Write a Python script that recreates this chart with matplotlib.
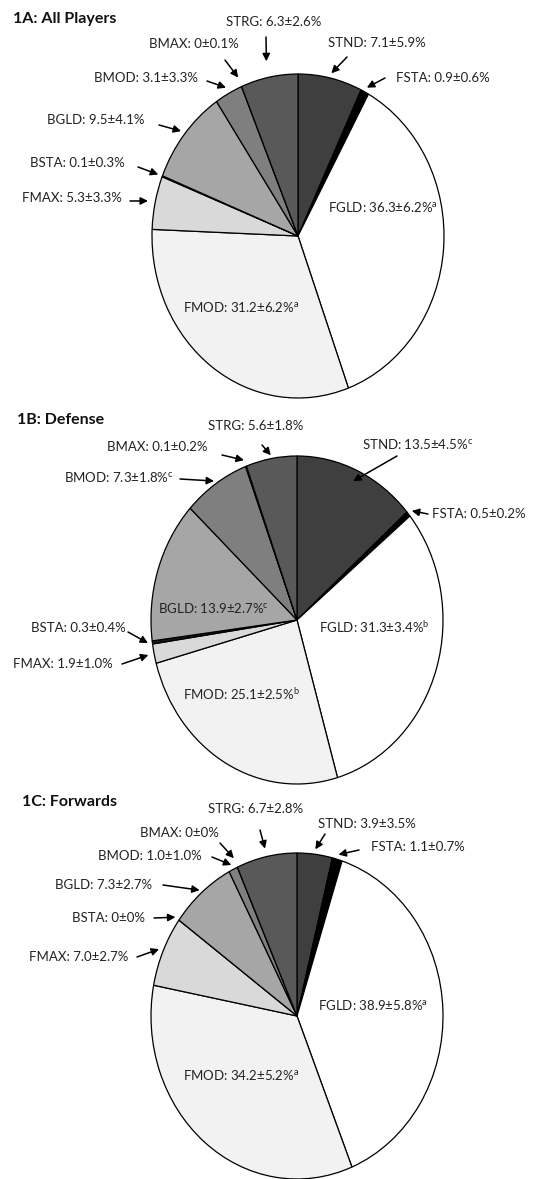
import matplotlib
matplotlib.use("Agg")
import numpy as np
import matplotlib.pyplot as plt

plt.rcParams["font.family"] = ["Lato", "DejaVu Sans"]
plt.rcParams["mathtext.fontset"] = "custom"

W, H = 543, 1179

cats = ['STND', 'FSTA', 'FGLD', 'FMOD', 'FMAX', 'BSTA', 'BGLD', 'BMOD', 'BMAX', 'STRG']
colors = ['#3f3f3f', '#000000', '#ffffff', '#f2f2f2', '#d9d9d9',
          '#1a1a1a', '#a6a6a6', '#7f7f7f', '#bfbfbf', '#595959']

all_mean = [7.1, 0.9, 36.3, 31.2, 5.3, 0.1, 9.5, 3.1, 0, 6.3]
all_sd = [5.9, 0.6, 6.2, 6.2, 3.3, 0.3, 4.1, 3.3, 0.1, 2.6]
all_sup = ['', '', 'a', 'a', '', '', '', '', '', '']

def_mean = [13.5, 0.5, 31.3, 25.1, 1.9, 0.3, 13.9, 7.3, 0.1, 5.6]
def_sd = [4.5, 0.2, 3.4, 2.5, 1.0, 0.4, 2.7, 1.8, 0.2, 1.8]
def_sup = ['c', '', 'b', 'b', '', '', 'c', 'c', '', '']

fwd_mean = [3.9, 1.1, 38.9, 34.2, 7.0, 0, 7.3, 1.0, 0, 6.7]
fwd_sd = [3.5, 0.7, 5.8, 5.2, 2.7, 0, 2.7, 1.0, 0, 2.8]
fwd_sup = ['', '', 'a', 'a', '', '', '', '', '', '']

# label layout in pixels: text left x, text y, arrow tail (x, y) or None, tip radius
lay_all = {
    'STND': (328, 43, (347, 57), 1.03),
    'FSTA': (396, 78, (385, 78), 1.03),
    'FGLD': (328, 207, None, 0),
    'FMOD': (183, 307, None, 0),
    'FMAX': (22, 198, (130, 201), 1.05),
    'BSTA': (30, 163, (138, 167), 1.03),
    'BGLD': (47, 120, (159, 125), 1.03),
    'BMOD': (94, 78, (207, 81), 1.04),
    'BMAX': (149, 44, (225, 60), 1.06),
    'STRG': (226, 22, (266, 37), 1.1),
}
lay_def = {
    'STND': (362, 444, (397, 456), 0.93),
    'FSTA': (432, 514, (428, 514), 1.03),
    'FGLD': (319, 627, None, 0),
    'FMOD': (183, 694, None, 0),
    'FMAX': (13, 664, (122, 664), 1.04),
    'BSTA': (31, 628, (128, 632), 1.03),
    'BGLD': (158, 608, None, 0),
    'BMOD': (64, 477, (180, 479), 1.02),
    'BMAX': (107, 447, (222, 455), 1.04),
    'STRG': (208, 426, (262, 445), 1.02),
}
lay_fwd = {
    'STND': (318, 824, (325, 834), 1.03),
    'FSTA': (371, 847, (359, 850), 1.03),
    'FGLD': (318, 1005, None, 0),
    'FMOD': (183, 1075, None, 0),
    'FMAX': (29, 957, (137, 957), 1.03),
    'BSTA': (72, 918, (154, 918), 1.03),
    'BGLD': (55, 885, (163, 885), 1.02),
    'BMOD': (98, 856, (212, 857), 1.03),
    'BMAX': (140, 833, (220, 843), 1.06),
    'STRG': (208, 809, (260, 830), 1.05),
}


def fmt(v):
    return '0' if v == 0 else '%.1f' % v


fig = plt.figure(figsize=(W / 100, H / 100), dpi=100)


def draw_panel(cx, cy, rx, ry, title, title_xy, means, sds, sups, layout):
    # one full-figure axes per panel, stretched so the pie comes out a bit taller than wide
    ax = fig.add_axes([0, 0, 1, 1])
    ax.patch.set_visible(False)
    wedges, _ = ax.pie(means, colors=colors, startangle=90, counterclock=False,
                       radius=1, wedgeprops=dict(edgecolor='black', linewidth=0.9))
    ax.set_aspect('auto')
    ax.set_xlim(-cx / rx, (W - cx) / rx)
    ax.set_ylim(-(H - cy) / ry, cy / ry)
    ax.axis('off')

    def px(x, y):
        return ((x - cx) / rx, (cy - y) / ry)

    for i, c in enumerate(cats):
        tx, ty, tail, r = layout[c]
        label = '%s: %s\u00b1%s%%' % (c, fmt(means[i]), fmt(sds[i]))
        if sups[i]:
            label += r'$^{\mathregular{%s}}$' % sups[i]
        ax.text(*px(tx, ty), label, ha='left', va='center', fontsize=9.5,
                color='#222222')
        if tail is not None:
            w = wedges[i]
            mid = np.deg2rad((w.theta1 + w.theta2) / 2)
            tip = (r * np.cos(mid), r * np.sin(mid))
            ax.annotate('', xy=tip, xytext=px(*tail), annotation_clip=False,
                        arrowprops=dict(arrowstyle='-|>', color='black', lw=1.1,
                                        mutation_scale=11, shrinkA=0, shrinkB=0))
    fig.text(title_xy[0] / W, 1 - title_xy[1] / H, title, fontsize=11.5,
             fontweight='bold', ha='left', va='center', color='#111111')


draw_panel(298, 236, 146, 162, '1A: All Players', (13, 19), all_mean, all_sd, all_sup, lay_all)
draw_panel(297, 620, 146, 164, '1B: Defense', (17, 420), def_mean, def_sd, def_sup, lay_def)
draw_panel(297, 1016, 146, 163, '1C: Forwards', (22, 802), fwd_mean, fwd_sd, fwd_sup, lay_fwd)

fig.savefig('out.png', dpi=100, facecolor='white')
